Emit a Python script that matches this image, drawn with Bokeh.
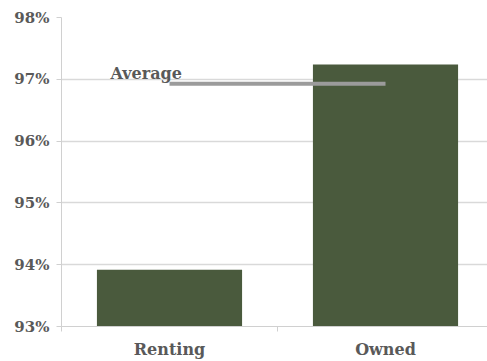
from bokeh.plotting import figure
from bokeh.models import Range1d, FixedTicker, ColumnDataSource, Label
from bokeh.embed import file_html
from bokeh.resources import INLINE

categories = ["Renting", "Owned"]
values = [93.92, 97.24]
average = 96.93
y_ticks = [93, 94, 95, 96, 97, 98]
y_tick_labels = ["93%", "94%", "95%", "96%", "97%", "98%"]

FONT = "DejaVu Serif"
x_pos = [i + 0.5 for i in range(len(categories))]

p = figure(width=487, height=361, output_backend="svg", toolbar_location=None,
           x_range=Range1d(0, 426 / 216), y_range=Range1d(93, 98),
           min_border_left=61, min_border_right=0, min_border_top=17, min_border_bottom=35)
p.outline_line_color = None
p.background_fill_color = "white"
p.border_fill_color = "white"

src = ColumnDataSource(dict(x=x_pos, top=values, cat=categories))
p.vbar(x="x", top="top", bottom=93, width=0.672, source=src, fill_color="#4a5a3d", line_color=None)

p.line(x=[x_pos[0], x_pos[1]], y=[average, average], line_color="#9b9b9b", line_width=4)
p.add_layout(Label(x=0.227, y=97.09, text="Average", text_font=FONT, text_font_size="16px",
                   text_font_style="bold", text_color="#595959", text_baseline="alphabetic"))

# y axis
p.yaxis.ticker = FixedTicker(ticks=y_ticks)
p.yaxis.major_label_overrides = {t: l for t, l in zip(y_ticks, y_tick_labels)}
p.yaxis.axis_line_color = "#d0d0d0"
p.yaxis.major_tick_line_color = "#d0d0d0"
p.yaxis.major_tick_out = 5
p.yaxis.major_tick_in = 0
p.yaxis.minor_tick_line_color = None
p.yaxis.major_label_text_font = FONT
p.yaxis.major_label_text_font_size = "15px"
p.yaxis.major_label_text_font_style = "bold"
p.yaxis.major_label_text_color = "#595959"
p.yaxis.major_label_standoff = 7

# x axis
p.xaxis.ticker = FixedTicker(ticks=x_pos, minor_ticks=[0, 1, 2])
p.xaxis.major_label_overrides = {x: c for x, c in zip(x_pos, categories)}
p.xaxis.axis_line_color = "#d0d0d0"
p.xaxis.major_tick_line_color = None
p.xaxis.major_tick_out = 0
p.xaxis.major_tick_in = 0
p.xaxis.minor_tick_line_color = "#d0d0d0"
p.xaxis.minor_tick_out = 5
p.xaxis.minor_tick_in = 0
p.xaxis.major_label_text_font = FONT
p.xaxis.major_label_text_font_size = "16px"
p.xaxis.major_label_text_font_style = "bold"
p.xaxis.major_label_text_color = "#595959"
p.xaxis.major_label_standoff = 8

p.xgrid.grid_line_color = None
p.ygrid.ticker = FixedTicker(ticks=y_ticks)
p.ygrid.grid_line_color = "#d9d9d9"
p.ygrid.grid_line_width = 1.5

open("out.html", "w").write(file_html(p, INLINE))
